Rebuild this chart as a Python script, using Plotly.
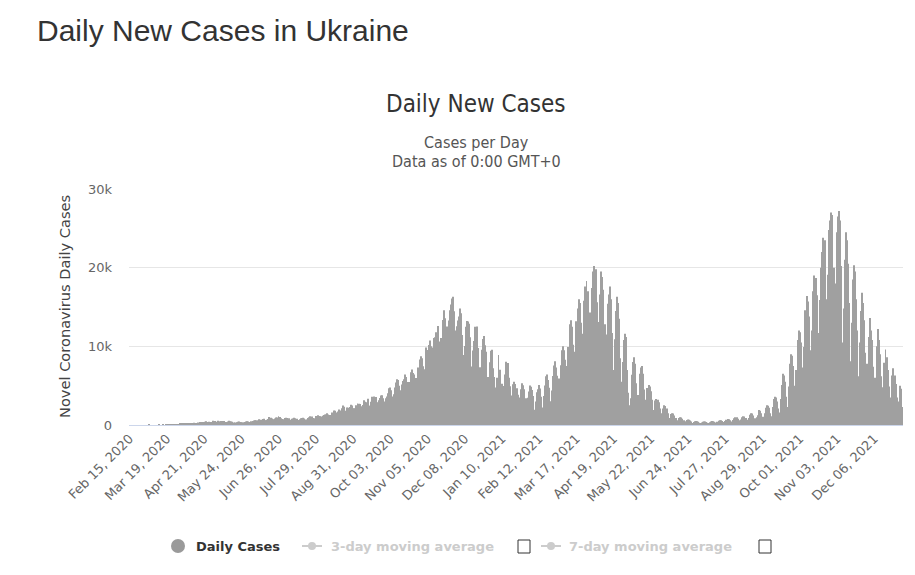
import plotly.graph_objects as go
import pandas as pd

# ---------------- data ----------------
START_DATE = "2020-02-15"
END_DATE = "2021-12-31"
DATES = pd.date_range(START_DATE, END_DATE, freq="D")

# daily new cases, first two days (Sat/Sun) then weekly rows Mon..Sun
DAILY_CASES = [
    0, 0,
    0, 0, 0, 0, 0, 0, 0,                               # Feb 17 2020
    0, 0, 0, 0, 0, 0, 0,                               # Feb 24
    0, 1, 0, 0, 0, 0, 0,                               # Mar 2
    0, 0, 0, 2, 0, 0, 0,                               # Mar 9
    2, 0, 7, 2, 15, 21, 26,                            # Mar 16
    16, 34, 57, 62, 89, 69, 107,                       # Mar 23
    62, 170, 152, 177, 114, 145, 207,                  # Mar 30
    150, 226, 182, 205, 250, 256, 300,                 # Apr 6
    239, 261, 270, 312, 391, 392, 371,                 # Apr 13
    330, 373, 416, 477, 392, 401, 382,                 # Apr 20
    316, 366, 540, 455, 502, 416, 550,                 # Apr 27
    387, 470, 507, 503, 487, 504, 375,                 # May 4
    380, 431, 528, 476, 454, 398, 325,                 # May 11
    344, 318, 350, 422, 451, 384, 340,                 # May 18
    359, 361, 397, 430, 476, 431, 340,                 # May 25
    370, 486, 499, 570, 611, 588, 470,                 # Jun 1
    595, 727, 681, 683, 753, 780, 600,                 # Jun 8
    591, 666, 758, 1003, 912, 818, 723,                # Jun 15
    690, 832, 945, 960, 1109, 1020, 857,               # Jun 22
    770, 656, 733, 874, 919, 879, 852,                 # Jun 29
    638, 663, 789, 838, 918, 873, 810,                 # Jul 6
    551, 646, 722, 854, 885, 933, 812,                 # Jul 13
    690, 664, 882, 981, 1106, 1031, 1066,              # Jul 20
    877, 849, 1142, 1109, 1226, 1137, 1106,            # Jul 27
    1065, 1178, 1268, 1321, 1319, 1489, 1344,          # Aug 3
    1059, 1271, 1592, 1453, 1847, 1826, 1599,          # Aug 10
    1393, 1703, 1967, 1845, 2134, 2481, 2328,          # Aug 17
    1825, 1738, 2216, 2180, 2275, 2585, 2473,          # Aug 24
    2136, 2095, 2141, 2495, 2723, 2713, 2669,          # Aug 31
    2191, 2389, 2541, 3144, 2971, 2899, 3341,          # Sep 7
    2451, 2453, 2953, 3584, 3228, 3627, 3564,          # Sep 14
    2828, 2905, 3140, 3447, 3764, 3776, 3402,          # Sep 21
    3000, 3395, 3630, 4027, 4661, 4753, 4420,          # Sep 28
    3627, 3904, 4753, 5397, 5804, 5723, 4996,          # Oct 5
    4407, 5133, 5592, 5804, 6410, 6113, 5469,          # Oct 12
    5063, 5469, 6719, 7053, 6624, 6410, 5967,          # Oct 19
    5388, 5980, 7312, 8312, 8752, 8470, 7474,          # Oct 26
    6975, 7096, 9850, 9524, 10179, 10746, 10010,       # Nov 2
    8832, 9850, 11057, 11143, 11787, 12573, 10611,     # Nov 9
    9850, 11044, 11057, 13357, 14580, 13575, 12524,    # Nov 16
    10622, 13286, 14575, 15331, 16080, 16294, 14452,   # Nov 23
    11998, 12542, 13271, 13793, 14794, 14211, 11431,   # Nov 30
    8899, 10055, 12491, 13232, 13159, 12857, 11147,    # Dec 7
    7425, 9475, 10693, 12495, 12118, 12513, 9788,      # Dec 14
    5830, 7340, 9580, 10931, 11302, 10134, 9320,       # Dec 21
    4841, 6113, 7986, 9452, 9553, 7226, 6100,          # Dec 28
    4385, 4770, 6010, 8900, 7020, 4440, 5250,          # Jan 4 2021
    3150, 4950, 6425, 8050, 7890, 6020, 4930,          # Jan 11
    2470, 3740, 5175, 5500, 5200, 4665, 3860,          # Jan 18
    2520, 3510, 4545, 5300, 5050, 4530, 3410,          # Jan 25
    2550, 3470, 4260, 5010, 4870, 4440, 3680,          # Feb 1
    1935, 2990, 4160, 4550, 5070, 4635, 3585,          # Feb 8
    2215, 3700, 5010, 6190, 6420, 5720, 4730,          # Feb 15
    3010, 4390, 6230, 7560, 8090, 7300, 6270,          # Feb 22
    3800, 5900, 7600, 9500, 10000, 9500, 8300,         # Mar 1
    5000, 7500, 9900, 12800, 13300, 12500, 10200,      # Mar 8
    6500, 9300, 13200, 14800, 16000, 15500, 13000,     # Mar 15
    8800, 11600, 15800, 17600, 18300, 17000, 14300,    # Mar 22
    10100, 14300, 17400, 19500, 20200, 19800, 15600,   # Mar 29
    9400, 13100, 16600, 19500, 18800, 17200, 12800,    # Apr 5
    7400, 11500, 15400, 16600, 17600, 16000, 11700,    # Apr 12
    7000, 10900, 14500, 16300, 15500, 13500, 8500,     # Apr 19
    5500, 8000, 10800, 11600, 11200, 7000, 4100,       # Apr 26
    2500, 3400, 6400, 8000, 8600, 7800, 5300,          # May 3
    2900, 3800, 6500, 7300, 7500, 6500, 4500,          # May 10
    2200, 3200, 4700, 5100, 4900, 4300, 3200,          # May 17
    1600, 1900, 3100, 3300, 3200, 2900, 2100,          # May 24
    1100, 1500, 2100, 2500, 2400, 2100, 1500,          # May 31
    800, 900, 1400, 1500, 1450, 1200, 900,             # Jun 7
    500, 600, 900, 1000, 950, 800, 600,                # Jun 14
    330, 470, 650, 700, 680, 560, 430,                 # Jun 21
    250, 380, 480, 500, 490, 400, 300,                 # Jun 28
    210, 330, 420, 450, 440, 380, 300,                 # Jul 5
    230, 360, 460, 500, 490, 410, 320,                 # Jul 12
    250, 400, 540, 600, 590, 500, 370,                 # Jul 19
    300, 500, 680, 750, 720, 600, 450,                 # Jul 26
    360, 620, 850, 1000, 980, 800, 600,                # Aug 2
    400, 700, 980, 1100, 1080, 900, 680,               # Aug 9
    520, 900, 1300, 1500, 1450, 1200, 850,             # Aug 16
    600, 1000, 1250, 1900, 1800, 1500, 1050,           # Aug 23
    800, 1500, 2200, 2500, 2450, 2200, 1500,           # Aug 30
    1100, 2300, 3300, 3600, 3500, 3000, 2100,          # Sep 6
    1600, 3300, 5100, 6500, 6300, 5500, 3600,          # Sep 13
    2300, 4900, 7800, 9000, 8800, 7500, 5000,          # Sep 20
    3600, 7000, 10800, 12000, 11800, 10500, 7300,      # Sep 27
    4900, 9900, 14600, 16400, 15700, 13800, 9500,      # Oct 4
    6000, 12000, 17000, 19000, 18700, 16500, 11700,    # Oct 11
    8000, 15900, 20000, 22000, 23800, 23500, 16000,    # Oct 18
    9900, 19100, 24800, 26000, 27000, 26700, 20000,    # Oct 25
    12000, 18000, 24500, 26500, 27200, 26000, 20200,   # Nov 1
    10500, 14800, 21000, 24500, 23500, 20500, 15500,   # Nov 8
    8100, 13000, 18500, 20300, 19500, 16000, 12000,    # Nov 15
    6200, 10500, 14500, 16800, 15500, 13300, 9200,     # Nov 22
    4500, 7800, 11200, 13600, 12000, 10800, 7400,      # Nov 29
    3800, 6000, 10000, 12200, 10800, 9000, 6200,       # Dec 6
    2800, 4800, 7900, 9600, 8600, 7000, 4900,          # Dec 13
    2300, 3500, 6300, 7200, 6300, 5200, 3500,          # Dec 20
    1700, 3000, 5000, 4600, 2300,                      # Dec 27
]

TICK_LABELS = [
    "Feb 15, 2020", "Mar 19, 2020", "Apr 21, 2020", "May 24, 2020",
    "Jun 26, 2020", "Jul 29, 2020", "Aug 31, 2020", "Oct 03, 2020",
    "Nov 05, 2020", "Dec 08, 2020", "Jan 10, 2021", "Feb 12, 2021",
    "Mar 17, 2021", "Apr 19, 2021", "May 22, 2021", "Jun 24, 2021",
    "Jul 27, 2021", "Aug 29, 2021", "Oct 01, 2021", "Nov 03, 2021",
    "Dec 06, 2021",
]
Y_TICKS = [0, 10000, 20000, 30000]
Y_TICK_TEXT = ["0", "10k", "20k", "30k"]

# ---------------- layout geometry ----------------
W_FIG, H_FIG = 915, 575
L, R, T, B = 129, 12, 189, 150
PW, PH = W_FIG - L - R, H_FIG - T - B


def px(x):
    return (x - L) / PW


def py(y):
    return (H_FIG - B - y) / PH


n = len(DATES)
xs = list(range(n))
date_text = [d.strftime("%b %d, %Y") for d in DATES]
label_pos = [date_text.index(t) for t in TICK_LABELS]

fig = go.Figure()
fig.add_trace(go.Bar(
    x=xs, y=DAILY_CASES[:n], customdata=date_text,
    marker=dict(color="#a0a0a0", line=dict(width=0)),
    hovertemplate="%{customdata}<br>%{y}<extra>Daily Cases</extra>",
    showlegend=False,
))

fig.update_layout(
    width=W_FIG, height=H_FIG,
    margin=dict(l=L, r=R, t=T, b=B, autoexpand=False),
    paper_bgcolor="white", plot_bgcolor="white",
    bargap=0.15,
    xaxis=dict(
        range=[-0.5, n - 0.5], tickmode="array", tickvals=label_pos,
        ticktext=TICK_LABELS, tickangle=-45, showgrid=False, zeroline=False,
        showline=True, linecolor="#ccd6eb", linewidth=1,
        tickfont=dict(family="DejaVu Sans", size=13, color="#666666"),
        ticks="",
    ),
    yaxis=dict(
        range=[0, 30000], tickmode="array", tickvals=Y_TICKS,
        ticktext=Y_TICK_TEXT, showgrid=True, gridcolor="#e6e6e6",
        zeroline=False, ticks="", ticklabelstandoff=16,
        tickfont=dict(family="DejaVu Sans", size=13, color="#666666"),
    ),
)

ann = []
ann.append(dict(text="Daily New Cases in Ukraine", x=px(35), y=py(30),
                xanchor="left", yanchor="middle",
                font=dict(family="Liberation Sans", size=30, color="#333333")))
ann.append(dict(text="Daily New Cases", x=px(476), y=py(104),
                xanchor="center", yanchor="middle",
                font=dict(family="DejaVu Sans Condensed", size=24, color="#333333")))
ann.append(dict(text="Cases per Day", x=px(476), y=py(142),
                xanchor="center", yanchor="middle",
                font=dict(family="DejaVu Sans Condensed", size=16, color="#555555")))
ann.append(dict(text="Data as of 0:00 GMT+0", x=px(476), y=py(161),
                xanchor="center", yanchor="middle",
                font=dict(family="DejaVu Sans Condensed", size=16, color="#555555")))
ann.append(dict(text="Novel Coronavirus Daily Cases", x=px(64), y=py(307),
                xanchor="center", yanchor="middle", textangle=-90,
                font=dict(family="DejaVu Sans", size=14.6, color="#444444")))
# legend
LEG_Y = 546
ann.append(dict(text="<b>Daily Cases</b>", x=px(194), y=py(LEG_Y),
                xanchor="left", yanchor="middle",
                font=dict(family="DejaVu Sans", size=13, color="#333333")))
ann.append(dict(text="<b>3-day moving average</b>", x=px(329), y=py(LEG_Y),
                xanchor="left", yanchor="middle",
                font=dict(family="DejaVu Sans", size=13, color="#cccccc")))
ann.append(dict(text="<b>7-day moving average</b>", x=px(567), y=py(LEG_Y),
                xanchor="left", yanchor="middle",
                font=dict(family="DejaVu Sans", size=13, color="#cccccc")))
for a in ann:
    a.update(xref="paper", yref="paper", showarrow=False)
fig.update_layout(annotations=ann)

shapes = []
shapes.append(dict(type="circle", x0=px(171), x1=px(185), y0=py(LEG_Y + 7), y1=py(LEG_Y - 7),
                   fillcolor="#9a9a9a", line=dict(width=0)))
for x0 in (302, 541):
    shapes.append(dict(type="line", x0=px(x0), x1=px(x0 + 20), y0=py(LEG_Y), y1=py(LEG_Y),
                       line=dict(color="#cccccc", width=2)))
    shapes.append(dict(type="circle", x0=px(x0 + 6), x1=px(x0 + 14),
                       y0=py(LEG_Y + 4), y1=py(LEG_Y - 4),
                       fillcolor="#cccccc", line=dict(width=0)))
for x0 in (518, 759):
    shapes.append(dict(type="rect", x0=px(x0), x1=px(x0 + 12), y0=py(LEG_Y + 7), y1=py(LEG_Y - 6),
                       fillcolor="white", line=dict(color="#333333", width=1)))
for s in shapes:
    s.update(xref="paper", yref="paper")
fig.update_layout(shapes=shapes)

fig.write_html("out.html", config={"displayModeBar": False},
               post_script="document.body.style.margin='0px';")
